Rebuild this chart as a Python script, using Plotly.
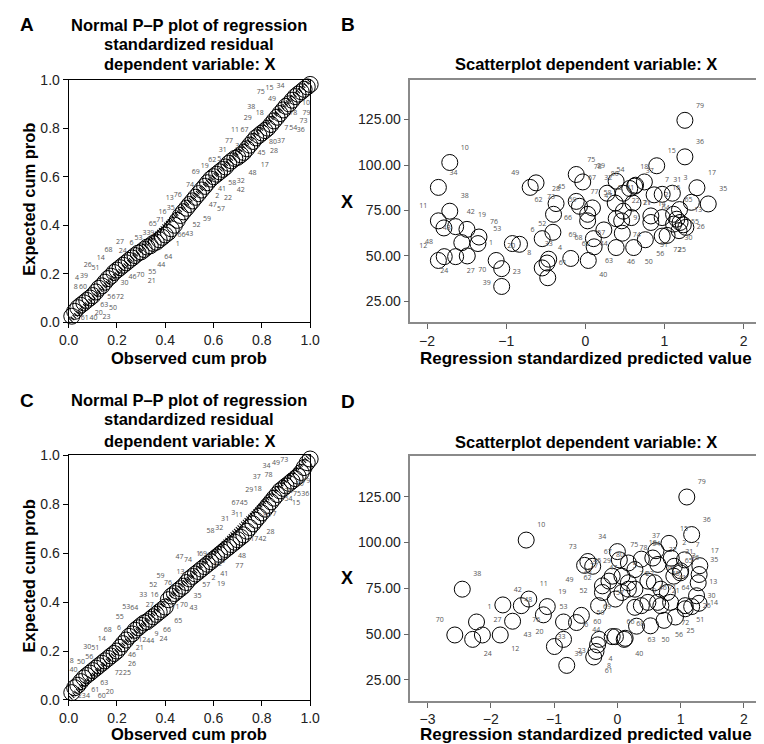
import plotly.graph_objects as go

W, H = 764, 744

# ---------------- Panel A / C : P-P plots ----------------
pp_obs = [0.013, 0.025, 0.038, 0.05, 0.063, 0.075, 0.088, 0.1, 0.113, 0.125,
          0.138, 0.15, 0.163, 0.175, 0.188, 0.2, 0.213, 0.225, 0.238, 0.25,
          0.263, 0.275, 0.288, 0.3, 0.313, 0.325, 0.338, 0.35, 0.363, 0.375,
          0.388, 0.4, 0.413, 0.425, 0.438, 0.45, 0.463, 0.475, 0.488, 0.5,
          0.513, 0.525, 0.538, 0.55, 0.563, 0.575, 0.588, 0.6, 0.613, 0.625,
          0.638, 0.65, 0.663, 0.675, 0.688, 0.7, 0.713, 0.725, 0.738, 0.75,
          0.763, 0.775, 0.788, 0.8, 0.813, 0.825, 0.838, 0.85, 0.863, 0.875,
          0.888, 0.9, 0.913, 0.925, 0.938, 0.95, 0.963, 0.975, 0.988, 1.0]
pp_a_exp = [0.025, 0.045, 0.06, 0.07, 0.08, 0.09, 0.1, 0.11, 0.125, 0.14,
            0.15, 0.165, 0.18, 0.19, 0.205, 0.215, 0.225, 0.235, 0.245, 0.255,
            0.265, 0.275, 0.285, 0.29, 0.3, 0.31, 0.315, 0.325, 0.33, 0.34,
            0.35, 0.36, 0.37, 0.385, 0.4, 0.42, 0.44, 0.455, 0.47, 0.485,
            0.5, 0.515, 0.53, 0.545, 0.56, 0.575, 0.59, 0.6, 0.61, 0.62,
            0.63, 0.64, 0.655, 0.665, 0.675, 0.68, 0.69, 0.7, 0.715, 0.73,
            0.745, 0.76, 0.77, 0.78, 0.79, 0.8, 0.815, 0.83, 0.845, 0.86,
            0.875, 0.89, 0.9, 0.915, 0.93, 0.94, 0.95, 0.96, 0.97, 0.98]
pp_c_exp = [0.03, 0.05, 0.06, 0.075, 0.09, 0.1, 0.11, 0.12, 0.13, 0.14,
            0.15, 0.16, 0.17, 0.18, 0.19, 0.2, 0.215, 0.23, 0.245, 0.26,
            0.27, 0.285, 0.295, 0.305, 0.315, 0.32, 0.33, 0.34, 0.35, 0.36,
            0.37, 0.38, 0.41, 0.425, 0.435, 0.445, 0.455, 0.465, 0.48, 0.495,
            0.505, 0.515, 0.525, 0.535, 0.545, 0.555, 0.565, 0.575, 0.585, 0.595,
            0.605, 0.615, 0.625, 0.635, 0.645, 0.655, 0.665, 0.675, 0.69, 0.705,
            0.72, 0.735, 0.75, 0.765, 0.78, 0.795, 0.81, 0.825, 0.84, 0.855,
            0.865, 0.875, 0.885, 0.895, 0.905, 0.915, 0.93, 0.95, 0.97, 0.985]

a_lbl = ["75", "15", "34", "49", "10", "79", "38", "18", "78", "29", "73", "11", "67", "7", "54", "36",
         "77", "3", "80", "37", "31", "45", "28", "62", "5", "19", "17", "69", "48", "74", "58", "32",
         "41", "42", "13", "76", "2", "22", "47", "57", "16", "35", "71", "59", "65", "52", "53", "33",
         "9", "66", "43", "27", "6", "1", "68", "24", "14", "64", "26", "51", "44", "4", "39", "55",
         "46", "70", "21", "30", "8", "60", "56", "72", "63", "50", "20", "23", "61", "40"]
a_lx = [0.796, 0.832, 0.877, 0.842, 0.983, 0.985, 0.756, 0.791, 0.930, 0.742, 0.973, 0.689, 0.728, 0.901, 0.930, 0.961,
        0.664, 0.698, 0.846, 0.879, 0.638, 0.799, 0.850, 0.595, 0.624, 0.564, 0.812, 0.526, 0.761, 0.503, 0.678, 0.713,
        0.635, 0.713, 0.419, 0.452, 0.615, 0.660, 0.597, 0.631, 0.389, 0.423, 0.379, 0.573, 0.348, 0.529, 0.289, 0.322,
        0.346, 0.467, 0.499, 0.213, 0.260, 0.452, 0.165, 0.224, 0.133, 0.413, 0.079, 0.111, 0.384, 0.035, 0.064, 0.346,
        0.264, 0.298, 0.344, 0.231, 0.030, 0.060, 0.177, 0.213, 0.148, 0.184, 0.125, 0.157, 0.067, 0.103]
a_ly = [0.948, 0.964, 0.971, 0.921, 0.901, 0.863, 0.884, 0.863, 0.861, 0.842, 0.827, 0.790, 0.790, 0.799, 0.799, 0.790,
        0.747, 0.727, 0.743, 0.746, 0.710, 0.695, 0.703, 0.669, 0.673, 0.643, 0.649, 0.618, 0.613, 0.566, 0.572, 0.581,
        0.549, 0.545, 0.509, 0.525, 0.521, 0.513, 0.482, 0.465, 0.455, 0.469, 0.422, 0.426, 0.404, 0.399, 0.348, 0.365,
        0.368, 0.359, 0.361, 0.328, 0.325, 0.321, 0.295, 0.292, 0.265, 0.268, 0.236, 0.224, 0.233, 0.181, 0.191, 0.207,
        0.187, 0.194, 0.170, 0.161, 0.143, 0.145, 0.104, 0.104, 0.070, 0.056, 0.037, 0.020, 0.016, 0.016]

c_lbl = ["34", "49", "73", "37", "78", "29", "18", "10", "79", "38", "75", "36", "54", "15", "67", "45",
         "11", "80", "7", "3", "31", "58", "32", "28", "17", "42", "47", "74", "1", "69", "48", "62",
         "5", "77", "13", "41", "59", "76", "2", "19", "52", "57", "33", "16", "35", "27", "71", "70",
         "43", "53", "64", "55", "65", "6", "68", "66", "9", "24", "14", "12", "44", "30", "51", "21",
         "56", "46", "8", "50", "26", "40", "72", "25", "63", "61", "20", "23", "4", "60"]
c_lx = [0.819, 0.859, 0.893, 0.779, 0.828, 0.748, 0.783, 0.957, 0.984, 0.910, 0.946, 0.980, 0.910, 0.942, 0.691, 0.725,
        0.705, 0.821, 0.852, 0.682, 0.648, 0.587, 0.624, 0.836, 0.769, 0.803, 0.459, 0.494, 0.537, 0.556, 0.718, 0.617,
        0.640, 0.707, 0.463, 0.644, 0.380, 0.411, 0.600, 0.631, 0.350, 0.570, 0.309, 0.356, 0.534, 0.336, 0.443, 0.478,
        0.517, 0.239, 0.272, 0.212, 0.454, 0.209, 0.162, 0.407, 0.364, 0.393, 0.137, 0.305, 0.338, 0.077, 0.110, 0.295,
        0.085, 0.262, 0.013, 0.051, 0.262, 0.020, 0.208, 0.242, 0.148, 0.110, 0.170, 0.054, 0.080, 0.137]
c_ly = [0.956, 0.969, 0.979, 0.909, 0.918, 0.858, 0.862, 0.882, 0.896, 0.852, 0.842, 0.842, 0.820, 0.805, 0.805, 0.805,
        0.755, 0.755, 0.758, 0.762, 0.739, 0.689, 0.702, 0.684, 0.655, 0.655, 0.582, 0.572, 0.595, 0.595, 0.588, 0.555,
        0.567, 0.548, 0.524, 0.515, 0.504, 0.479, 0.499, 0.473, 0.468, 0.471, 0.428, 0.428, 0.424, 0.388, 0.377, 0.388,
        0.374, 0.377, 0.374, 0.337, 0.321, 0.294, 0.286, 0.287, 0.270, 0.247, 0.247, 0.246, 0.241, 0.214, 0.210, 0.210,
        0.176, 0.184, 0.160, 0.154, 0.144, 0.123, 0.110, 0.110, 0.070, 0.040, 0.033, 0.016, 0.016, 0.017]

# ---------------- Panel B : scatter ----------------
b_lbl = [str(i) for i in range(1, 81)]
b_x = [-1.357, 1.190, 1.100, -0.484, 0.602, -0.832, 0.869, -0.545, 0.467, -1.713,
       -1.857, -1.857, 1.238, 1.156, 0.902, 1.340, 1.410, 0.746, -1.496, -1.127,
       0.971, 0.828, -1.057, -1.783, 1.033, 1.270, -1.639, -0.370, 0.389, 1.115,
       0.971, 0.480, -0.463, -1.857, 1.553, 1.258, 0.623, -1.713, -1.057, 0.037,
       0.377, -1.639, -1.561, 0.234, -0.115, 0.389, 0.480, -1.787, -0.697, 0.611,
       1.184, -0.545, -0.922, 0.635, 1.197, 0.758, 0.390, 0.090, 0.029, -0.184,
       -0.475, -0.402, 0.111, 0.828, 1.115, -0.410, 0.275, 0.102, 0.029, -1.492,
       0.582, 0.971, -0.623, 0.459, -0.115, -1.344, -0.074, -0.033, 1.258, 0.561]
b_y = [56.8, 75.5, 84.5, 46.1, 79.1, 56.4, 83.6, 43.4, 62.5, 101.4,
       69.3, 47.5, 67.1, 70.2, 99.6, 79.5, 87.5, 90.7, 64.6, 47.5,
       71.1, 72.0, 33.2, 49.6, 61.3, 65.7, 49.6, 78.8, 91.1, 67.5,
       83.9, 84.5, 48.2, 87.7, 78.6, 104.5, 88.4, 74.6, 43.0, 47.5,
       79.1, 66.1, 57.3, 64.3, 80.0, 54.6, 74.6, 65.4, 87.7, 54.6,
       63.9, 59.5, 56.8, 88.9, 68.4, 58.9, 70.5, 76.4, 72.9, 48.6,
       38.0, 72.9, 55.0, 68.4, 72.9, 63.0, 84.5, 59.5, 69.3, 50.0,
       71.1, 60.9, 90.2, 69.3, 94.8, 60.4, 77.3, 90.7, 124.6, 87.1]
b_pos = ["middle right", "top left", "top right", "top right", "top left", "top right", "top right", "top left", "top right", "top right",
         "top left", "top left", "top right", "top left", "top right", "top left", "top right", "top center", "top right", "top right",
         "top left", "top left", "top right", "bottom center", "bottom right", "middle right", "bottom right", "top center", "top left", "bottom right",
         "top right", "top left", "top center", "top right", "top right", "top right", "top right", "top right", "bottom left", "bottom right",
         "top right", "top right", "top left", "bottom center", "top left", "bottom right", "top left", "bottom left", "top left", "bottom right",
         "bottom left", "top center", "top left", "top left", "middle right", "bottom right", "bottom left", "top right", "top left", "top right",
         "top right", "top left", "bottom right", "top right", "top right", "top right", "top left", "middle left", "bottom left", "bottom right",
         "top right", "bottom right", "bottom right", "bottom right", "top right", "top right", "top right", "top right", "top right", "top left"]

# ---------------- Panel D : scatter ----------------
d_lbl = [str(i) for i in range(1, 81)]
d_x = [-2.226, 0.851, 1.000, -0.313, 0.482, -0.287, 1.060, -0.338, 0.379, -1.441,
       -1.400, -1.851, 1.277, 1.290, 0.815, 0.995, 1.303, 0.560, -1.108, -0.995,
       0.687, 0.277, -0.800, -2.287, 0.918, 1.174, -2.133, -0.236, 0.072, 1.251,
       0.900, 0.640, -0.646, 0.000, 1.292, 1.174, 0.610, -2.451, -0.851, 0.108,
       0.790, -1.810, -1.656, -0.569, -0.082, 0.482, 0.174, -1.169, -0.518, 0.523,
       1.072, -0.297, -0.851, 0.379, 0.687, 0.738, 0.277, 0.585, -0.031, -0.082,
       -0.374, -0.236, 0.303, 0.841, 0.892, -0.031, -0.390, 0.123, 0.072, -2.569,
       0.636, 1.072, -0.467, 0.174, 0.031, -1.518, -0.133, 0.174, 1.097, 0.277]
d_y = [56.6, 91.4, 84.5, 44.1, 78.9, 47.1, 90.5, 40.5, 65.5, 101.3,
       69.1, 49.5, 78.0, 66.8, 99.5, 83.4, 87.3, 91.5, 65.0, 43.2,
       65.5, 74.5, 32.9, 47.1, 59.3, 65.0, 49.5, 76.3, 81.6, 70.9,
       87.0, 88.0, 56.3, 95.0, 82.5, 104.3, 95.5, 74.5, 47.1, 47.1,
       72.7, 65.9, 57.0, 60.2, 81.6, 67.3, 78.0, 60.5, 87.5, 54.5,
       65.5, 65.5, 56.6, 90.9, 74.5, 57.5, 64.6, 78.0, 69.1, 48.6,
       37.5, 72.7, 54.3, 67.3, 81.6, 48.6, 87.0, 47.7, 72.7, 49.5,
       67.3, 63.8, 89.6, 74.5, 90.5, 65.5, 78.9, 88.8, 124.8, 85.2]
d_pos = ["top right", "top right", "top right", "bottom right", "top left", "top left", "top right", "bottom right", "top right", "top right",
         "top right", "bottom right", "middle right", "middle right", "top right", "top right", "top right", "top center", "top right", "top left",
         "top right", "top right", "top right", "bottom right", "bottom right", "middle right", "top right", "top left", "top left", "middle right",
         "top right", "top right", "bottom left", "top left", "top right", "top right", "top center", "top right", "bottom right", "bottom right",
         "top right", "top right", "bottom right", "bottom right", "top left", "top right", "top left", "top left", "bottom left", "bottom right",
         "bottom right", "top left", "top center", "top right", "top right", "bottom right", "top left", "top right", "bottom left", "top left",
         "bottom right", "top left", "bottom right", "top right", "top right", "top right", "top right", "top right", "bottom left", "top left",
         "top right", "bottom center", "top left", "top right", "top right", "bottom right", "top left", "top right", "top right", "top left"]

b_xticks = [-2, -1, 0, 1, 2]
d_xticks = [-3, -2, -1, 0, 1, 2]
sc_yticks = [25, 50, 75, 100, 125]
pp_ticks = [0.0, 0.2, 0.4, 0.6, 0.8, 1.0]

# ---------------- figure ----------------
LBL_FONT = dict(family="Open Sans, DejaVu Sans, sans-serif", size=7, color="#555")
TICK_FONT = dict(family="Liberation Sans, Arial, sans-serif", size=14, color="#222")
TITLE_FAMILY = "Liberation Sans, Arial, sans-serif"
CIRC = dict(symbol="circle-open", size=16, color="black", line=dict(width=1, color="black"))

fig = go.Figure()

def px_x(p):
    return p / W

def px_y(p):
    return 1 - p / H

# P-P panels
for xa, ya, ys, lbl, lx, ly in [("x", "y", pp_a_exp, a_lbl, a_lx, a_ly),
                                 ("x3", "y3", pp_c_exp, c_lbl, c_lx, c_ly)]:
    fig.add_trace(go.Scatter(x=pp_obs, y=ys, mode="markers", xaxis=xa, yaxis=ya,
                             marker=CIRC, showlegend=False, cliponaxis=False))
    fig.add_trace(go.Scatter(x=[0, 1], y=[0, 1], mode="lines", xaxis=xa, yaxis=ya,
                             line=dict(color="black", width=5, dash="1px,1.5px"),
                             hoverinfo="skip", showlegend=False))
    fig.add_trace(go.Scatter(x=lx, y=ly, text=lbl, mode="text", xaxis=xa, yaxis=ya,
                             textfont=LBL_FONT, showlegend=False))

# scatter panels
fig.add_trace(go.Scatter(x=b_x, y=b_y, text=b_lbl, mode="markers+text", textposition=b_pos,
                         xaxis="x2", yaxis="y2", marker=CIRC, textfont=LBL_FONT, showlegend=False))
fig.add_trace(go.Scatter(x=d_x, y=d_y, text=d_lbl, mode="markers+text", textposition=d_pos,
                         xaxis="x4", yaxis="y4", marker=CIRC, textfont=LBL_FONT, showlegend=False))

A_X = [px_x(52), px_x(300)]
B_X = [px_x(403), px_x(763)]
TOP_Y = [px_y(313), px_y(65)]
C_Y = [px_y(699), px_y(449)]
D_Y = [px_y(700), px_y(450)]

pp_axis = dict(range=[0, 1], tickvals=pp_ticks, ticktext=["0.0", "0.2", "0.4", "0.6", "0.8", "1.0"],
               showgrid=False, zeroline=False, showline=True, linecolor="black", linewidth=1,
               mirror=True, ticks="outside", ticklen=5, tickcolor="black", tickfont=TICK_FONT)
sc_y_axis = dict(range=[13.5, 147], tickvals=sc_yticks, ticktext=["25.00", "50.00", "75.00", "100.00", "125.00"],
                 showgrid=False, zeroline=False, showline=True, linecolor="#8a8a8a", linewidth=1.5,
                 mirror=True, ticks="outside", ticklen=5, tickcolor="#666", tickfont=TICK_FONT)
sc_x_axis = dict(showgrid=False, zeroline=False, showline=True, linecolor="#8a8a8a", linewidth=1.5,
                 mirror=True, ticks="outside", ticklen=5, tickcolor="#666", tickfont=TICK_FONT)

fig.update_layout(
    width=W, height=H, margin=dict(l=0, r=0, t=0, b=0),
    paper_bgcolor="white", plot_bgcolor="white", showlegend=False,
    xaxis=dict(domain=A_X, anchor="y", **pp_axis),
    yaxis=dict(domain=TOP_Y, anchor="x", **pp_axis),
    xaxis3=dict(domain=A_X, anchor="y3", **pp_axis),
    yaxis3=dict(domain=C_Y, anchor="x3", **pp_axis),
    xaxis2=dict(domain=B_X, anchor="y2", range=[-2.21, 2.22], tickvals=b_xticks,
                ticktext=["\u22122", "\u22121", "0", "1", "2"], **sc_x_axis),
    yaxis2=dict(domain=TOP_Y, anchor="x2", **sc_y_axis),
    xaxis4=dict(domain=B_X, anchor="y4", range=[-3.27, 2.27], tickvals=d_xticks,
                ticktext=["\u22123", "\u22122", "\u22121", "0", "1", "2"], **sc_x_axis),
    yaxis4=dict(domain=D_Y, anchor="x4", **sc_y_axis),
)

ann = []

def add_text(txt, x, y, size, angle=0, xanchor="center"):
    ann.append(dict(text="<b>" + txt + "</b>", x=px_x(x), y=px_y(y), xref="paper", yref="paper",
                    showarrow=False, xanchor=xanchor, yanchor="middle", textangle=angle,
                    font=dict(family=TITLE_FAMILY, size=size, color="black")))

# panel letters
add_text("A", 0, 9, 19, xanchor="left")
add_text("B", 330, 9, 19, xanchor="left")
add_text("C", 0, 393, 19, xanchor="left")
add_text("D", 330, 394, 19, xanchor="left")

# P-P titles
for y0 in (9, 392):
    add_text("Normal P\u2013P plot of regression", 176, y0, 16.5)
    add_text("standardized residual", 176, y0 + 20, 16.5)
    add_text("dependent variable: X", 176, y0 + 40 + (2 if y0 > 100 else 0), 16.5)

add_text("Observed cum prob", 176, 350, 16.5)
add_text("Observed cum prob", 176, 734, 16.5)
add_text("Expected cum prob", 11, 187, 16.5, angle=-90)
add_text("Expected cum prob", 11, 572, 16.5, angle=-90)

add_text("Scatterplot dependent variable: X", 583, 49, 16.5)
add_text("Scatterplot dependent variable: X", 583, 435, 16.5)
add_text("Regression standardized predicted value", 583, 350, 17)
add_text("Regression standardized predicted value", 583, 734, 17)
add_text("X", 338, 190, 18)
add_text("X", 338, 574, 18)

fig.update_layout(annotations=ann)

fig.write_html("out.html")
